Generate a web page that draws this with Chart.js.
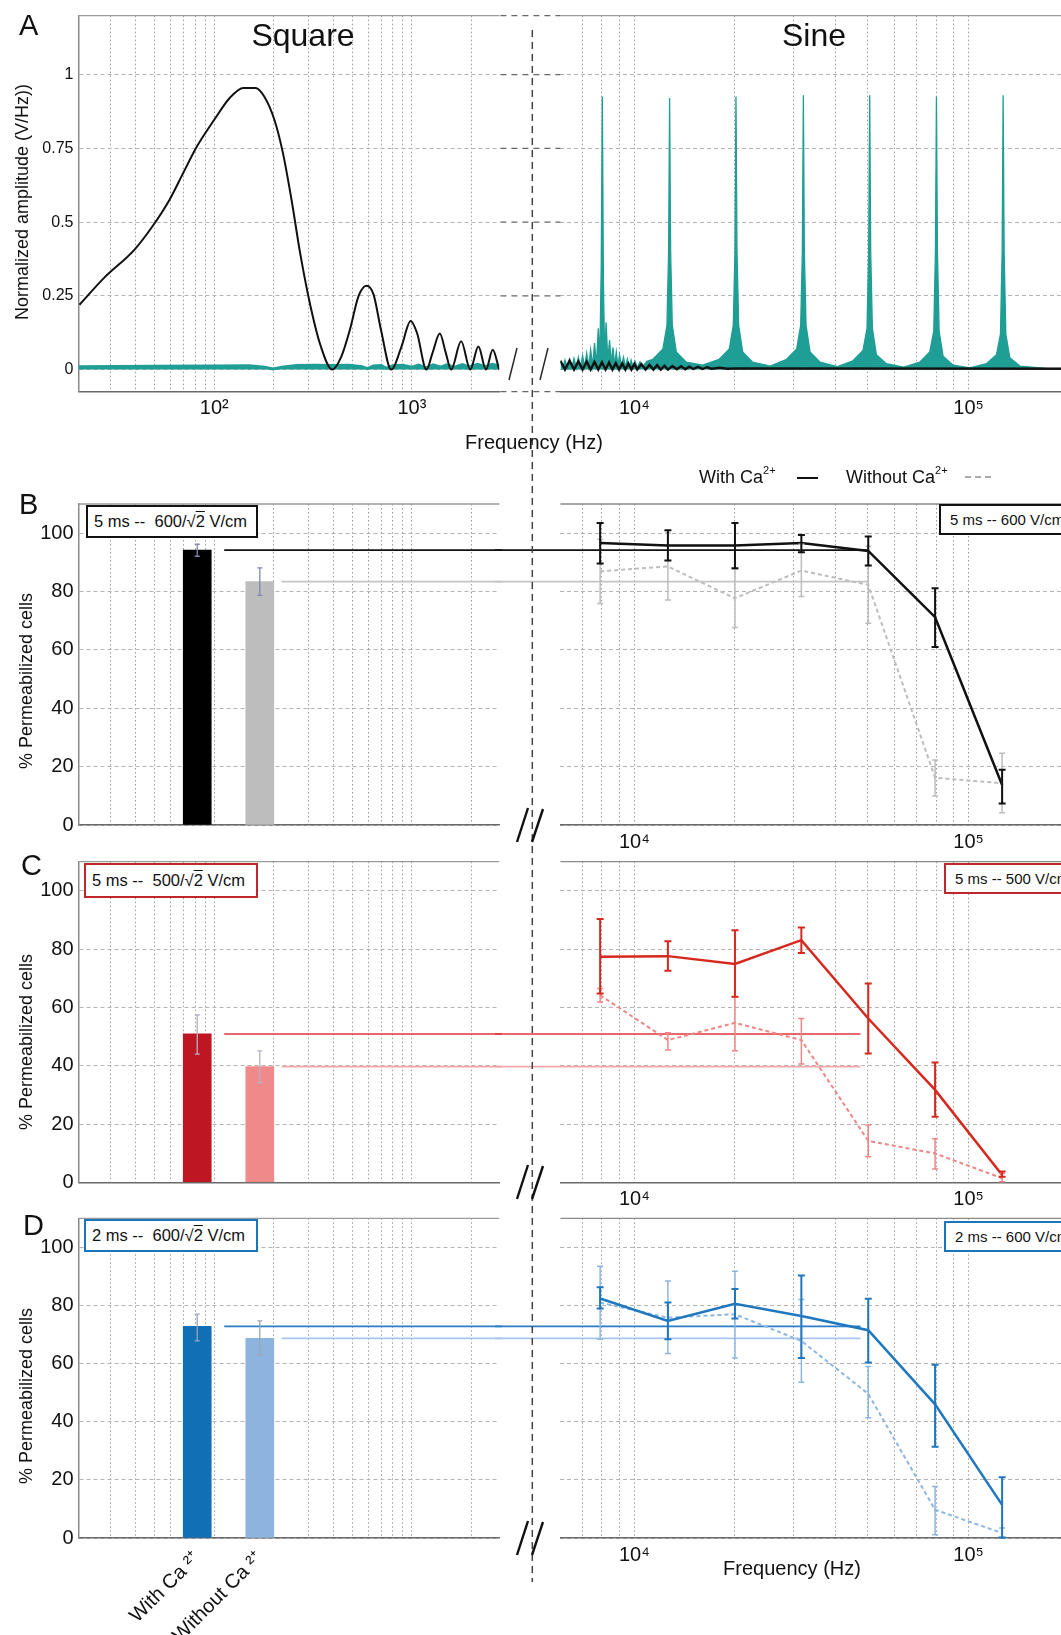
<!DOCTYPE html>
<html>
<head>
<meta charset="utf-8">
<title>Square vs sine pulses - spectra and permeabilization</title>
<script src="https://cdn.jsdelivr.net/npm/chart.js@4/dist/chart.umd.min.js"></script>
<style>
  html, body { margin: 0; padding: 0; background: #fff; }
  body { position: relative; width: 1061px; height: 1635px; overflow: hidden;
         font-family: "Liberation Sans", Arial, "DejaVu Sans", sans-serif; color: #111; }
  #charts canvas { position: absolute; }
  .t { position: absolute; white-space: nowrap; line-height: 1; }
  .letter { font-size: 29px; }
  .head { font-size: 32px; transform: translateX(-50%); }
  .ytitle { font-size: 18px; transform: translate(-50%, -50%) rotate(-90deg); }
  .xtitle { font-size: 20px; transform: translate(-50%, -50%); }
  .box { position: absolute; box-sizing: border-box; border: 2.5px solid #111; background: #fff;
         display: flex; align-items: center; white-space: nowrap; line-height: 1; }
  .box.l { font-size: 16.5px; padding-left: 6px; }
  .box.r { font-size: 15px; padding-left: 9px; width: 150px; }
  .ov { text-decoration: overline; }
  sup { font-size: 11px; vertical-align: 9px; line-height: 0; }
</style>
</head>
<body>
<div id="charts"></div>

<svg width="1061" height="1635" style="position:absolute;left:0;top:0">
  <line x1="532.3" y1="30" x2="532.3" y2="1582" stroke="#444" stroke-width="1.5" stroke-dasharray="7,5"/>
  <g stroke="#222" stroke-width="1.4">
    <line x1="509" y1="380" x2="517" y2="348"/>
    <line x1="540" y1="380" x2="548" y2="348"/>
  </g>
  <g stroke="#111" stroke-width="2.4">
    <line x1="517" y1="842" x2="528" y2="808"/>
    <line x1="532" y1="842" x2="543" y2="809"/>
    <line x1="517" y1="1199" x2="528" y2="1165"/>
    <line x1="532" y1="1199" x2="543" y2="1166"/>
    <line x1="517" y1="1555" x2="528" y2="1521"/>
    <line x1="532" y1="1555" x2="543" y2="1522"/>
  </g>
</svg>

<div class="t letter" style="left:19px;top:11px">A</div>
<div class="t letter" style="left:19px;top:490px">B</div>
<div class="t letter" style="left:21px;top:851px">C</div>
<div class="t letter" style="left:23px;top:1211px">D</div>

<div class="t head" style="left:303px;top:19px">Square</div>
<div class="t head" style="left:814px;top:19px">Sine</div>

<div class="t ytitle" style="left:22px;top:202px">Normalized amplitude (V/Hz))</div>
<div class="t ytitle" style="left:26px;top:681px">% Permeabilized cells</div>
<div class="t ytitle" style="left:26px;top:1042px">% Permeabilized cells</div>
<div class="t ytitle" style="left:26px;top:1396px">% Permeabilized cells</div>

<div class="t xtitle" style="left:534px;top:442px">Frequency (Hz)</div>
<div class="t xtitle" style="left:792px;top:1568px">Frequency (Hz)</div>

<div class="t" style="left:699px;top:468px;font-size:18px">With Ca<sup>2+</sup></div>
<div style="position:absolute;left:797px;top:477px;width:21px;height:2px;background:#111"></div>
<div class="t" style="left:846px;top:468px;font-size:18px">Without Ca<sup>2+</sup></div>
<div style="position:absolute;left:965px;top:476px;width:26px;border-top:2px dashed #aaa"></div>

<div class="box l" style="left:86px;top:505px;width:172px;height:33px;border-color:#111">5 ms --&nbsp; 600/√<span class="ov">2</span>&nbsp;V/cm</div>
<div class="box l" style="left:84px;top:863px;width:174px;height:35px;border-color:#c0272d">5 ms --&nbsp; 500/√<span class="ov">2</span>&nbsp;V/cm</div>
<div class="box l" style="left:84px;top:1219px;width:174px;height:33px;border-color:#1a75bc">2 ms --&nbsp; 600/√<span class="ov">2</span>&nbsp;V/cm</div>
<div class="box r" style="left:939px;top:504px;height:31px;border-color:#111">5 ms -- 600 V/cm</div>
<div class="box r" style="left:944px;top:863px;height:31px;border-color:#c0272d">5 ms -- 500 V/cm</div>
<div class="box r" style="left:944px;top:1221px;height:31px;border-color:#1a75bc">2 ms -- 600 V/cm</div>

<script>
// ---- panel A: normalized spectra ----
// square pulse spectrum (black)
const squareHz  = [20.8, 27.7, 39.5, 48.7, 59.4, 69.7, 81.8, 100, 119.7, 140.5, 161.7, 178.7, 201.5, 222.6, 246, 272, 306.9, 346, 395,
                   440, 486, 537, 590, 640, 697, 786, 887, 985, 1062, 1185, 1271, 1385, 1480, 1580, 1775, 1975, 2170, 2370, 2565, 2765];
const squareAmp = [0.22, 0.311, 0.407, 0.486, 0.576, 0.667, 0.757, 0.847, 0.921, 0.955, 0.955, 0.927, 0.847, 0.734, 0.576, 0.395, 0.215, 0.079, 0,
                   0.045, 0.136, 0.249, 0.284, 0.254, 0.136, 0, 0.079, 0.165, 0.124, 0, 0.056, 0.122, 0.06, 0, 0.096, 0, 0.078, 0, 0.067, 0];
// sine burst spectrum seen in the square band (teal)
const squareTealHz  = [20.6, 50, 100, 150, 180, 198, 220, 260, 320, 400, 480, 560, 594, 640, 700, 741, 800, 900, 1000, 1080,
                       1180, 1280, 1400, 1500, 1650, 1800, 1950, 2150, 2350, 2550, 2769];
const squareTealAmp = [0.010, 0.011, 0.012, 0.013, 0.008, 0.002, 0.008, 0.014, 0.015, 0.014, 0.015, 0.010, 0.003, 0.012, 0.014, 0.004, 0.013, 0.015, 0.008, 0.015,
                       0.006, 0.016, 0.008, 0.016, 0.008, 0.017, 0.009, 0.018, 0.010, 0.018, 0.012];
// sine burst spectrum (teal)
const sineHz  = [6010, 6100, 6200, 6300, 6400, 6500, 6600, 6700, 6800, 6900, 7000, 7100, 7200, 7300, 7400, 7500, 7600, 7700, 7800, 7880,
                 7960, 8020, 8080, 8150, 8230, 8330, 8430, 8530, 8630, 8730, 8830, 8930, 9030, 9150, 9280, 9400, 9530, 9650, 9780, 9900,
                 10050, 10200, 10400, 10600, 10900,
                 11360, 12176, 12517, 12662, 12750, 12838, 12987, 13350, 14306, 16000,
                 17945, 19234, 19771, 20001, 20140, 20279, 20515, 21089, 22597, 25500,
                 28548, 30598, 31454, 31819, 32040, 32261, 32636, 33549, 35949, 40500,
                 45085, 48323, 49674, 50251, 50600, 50949, 51541, 52983, 56773, 64000,
                 71405, 76534, 78673, 79587, 80140, 80693, 81631, 83915, 89917, 101000,
                 113059, 121180, 124568, 126014, 126890, 127766, 129250, 132867, 142371, 170000, 247000];
const sineAmp = [0.03, 0.005, 0.032, 0.005, 0.035, 0.006, 0.038, 0.006, 0.042, 0.007, 0.048, 0.008, 0.056, 0.01, 0.068, 0.012, 0.09, 0.015, 0.14, 0.03,
                 0.35, 0.926, 0.3, 0.04, 0.16, 0.03, 0.1, 0.02, 0.075, 0.015, 0.06, 0.012, 0.05, 0.01, 0.042, 0.01, 0.036, 0.008, 0.032, 0.008,
                 0.028, 0.008, 0.026, 0.01, 0.028,
                 0.035, 0.07, 0.15, 0.4, 0.921, 0.4, 0.15, 0.06, 0.025, 0.015,
                 0.035, 0.07, 0.15, 0.4, 0.926, 0.4, 0.15, 0.06, 0.025, 0.012,
                 0.035, 0.07, 0.15, 0.4, 0.93, 0.4, 0.15, 0.06, 0.025, 0.01,
                 0.03, 0.065, 0.14, 0.4, 0.93, 0.4, 0.14, 0.05, 0.02, 0.008,
                 0.025, 0.06, 0.13, 0.4, 0.926, 0.4, 0.13, 0.045, 0.015, 0.006,
                 0.02, 0.05, 0.12, 0.4, 0.93, 0.4, 0.12, 0.04, 0.012, 0.004, 0.003];
// square pulse spectrum seen in the sine band (black ripple)
const sineSquareHz  = [6010, 6200, 6400, 6600, 6800, 7000, 7200, 7400, 7600, 7800, 8000, 8200, 8400, 8600, 8800, 9000, 9200, 9400, 9600, 9800,
                       10000, 10200, 10500, 10800, 11100, 11400, 11700, 12000, 12300, 12600, 13000, 13400, 13800, 14200, 14600, 15000, 15500,
                       16000, 16500, 17000, 18000, 19000, 20000, 247000];
const sineSquareAmp = [0.03, 0, 0.03, 0, 0.028, 0, 0.027, 0, 0.026, 0, 0.025, 0, 0.024, 0, 0.022, 0, 0.021, 0, 0.02, 0,
                       0.019, 0, 0.018, 0, 0.016, 0, 0.015, 0, 0.013, 0, 0.012, 0.001, 0.011, 0.001, 0.01, 0.002, 0.009,
                       0.002, 0.008, 0.003, 0.006, 0.003, 0.004, 0.003];
const ampTicks = [0, 0.25, 0.5, 0.75, 1];

// ---- panels B-D: % permeabilized cells ----
const pulseHz = [7900, 12600, 20000, 31600, 50100, 79400, 126000];
const barHz = [82, 170];
const barLabels = ['With Ca ²⁺', 'Without Ca ²⁺'];
const pctTicks = [0, 20, 40, 60, 80, 100];

// B: 5 ms, 600 V/cm
const bBar = [94.2, 83.4], bBarLo = [92.1, 78.7], bBarHi = [96.2, 88.1];
const bWith = [96.6, 95.8, 95.8, 96.6, 93.9, 71.2, 13.7];
const bWithLo = [89.6, 90.6, 88.0, 93.5, 88.9, 61.0, 7.4];
const bWithHi = [103.5, 101.0, 103.5, 99.4, 98.9, 81.1, 18.9];
const bWithout = [86.9, 88.6, 77.7, 87.2, 82.3, 16.2, 14.3];
const bWithoutLo = [75.9, 77.1, 67.7, 78.3, 69.1, 9.9, 4.2];
const bWithoutHi = [97.9, 100.1, 87.7, 96.2, 95.5, 22.3, 24.6];

// C: 5 ms, 500 V/cm
const cBar = [50.9, 39.7], cBarLo = [44.0, 34.2], cBarHi = [57.4, 45.1];
const cWith = [77.4, 77.6, 74.9, 83.1, 56.2, 31.7, 2.5];
const cWithLo = [64.8, 72.6, 63.7, 78.7, 44.2, 22.5, 1.9];
const cWithHi = [90.3, 82.7, 86.5, 87.4, 68.2, 41.1, 3.7];
const cWithout = [64.2, 48.8, 54.7, 48.8, 14.2, 9.9, 1.4];
const cWithoutLo = [61.9, 45.4, 45.1, 40.6, 8.8, 4.6, 0.2];
const cWithoutHi = [66.5, 51.3, 63.7, 56.2, 19.7, 14.9, 3.1];

// D: 2 ms, 600 V/cm
const dBar = [72.8, 68.7], dBarLo = [67.8, 63.0], dBarHi = [77.0, 74.7];
const dWith = [82.4, 74.7, 80.6, 76.4, 71.5, 46.0, 11.4];
const dWithLo = [79.0, 68.4, 75.5, 61.9, 60.4, 31.4, 0.2];
const dWithHi = [86.3, 81.0, 85.7, 90.3, 82.3, 59.6, 20.9];
const dWithout = [81.0, 75.8, 77.0, 67.8, 49.6, 9.7, 1.7];
const dWithoutLo = [68.4, 63.5, 61.9, 53.6, 41.4, 1.1, 0.2];
const dWithoutHi = [93.5, 88.4, 91.8, 82.1, 59.0, 17.7, 3.4];

// log grid lines and labelled decades
const leftGridHz = [30, 40, 50, 60, 70, 80, 90, 100, 200, 300, 400, 500, 600, 700, 800, 900, 1000, 2000];
const rightGridHz = [7000, 8000, 9000, 10000, 20000, 30000, 40000, 50000, 60000, 70000, 80000, 90000, 100000, 200000];
const leftTickText = { 100: '10²', 1000: '10³' };
const rightTickText = { 10000: '10⁴', 100000: '10⁵' };

const FONT = '"Liberation Sans", Arial, sans-serif';
const TEAL = '#1f9e95';
Chart.defaults.font.family = FONT;

const pts = (xs, ys) => xs.map((x, i) => ({ x: x, y: ys[i] }));

// ---------- plugins ----------
const frame = {
  id: 'frame',
  beforeDatasetsDraw(chart, args, opts) {
    const ctx = chart.ctx, a = chart.chartArea;
    ctx.save();
    ctx.strokeStyle = opts.color || '#999';
    ctx.lineWidth = 1.3;
    ctx.beginPath();
    ctx.moveTo(a.left, a.top);
    ctx.lineTo(a.right, a.top);
    ctx.stroke();
    if (opts.gapLevels) {
      // dashed pieces bridging the axis break
      ctx.setLineDash([6, 5]);
      ctx.strokeStyle = '#666';
      opts.gapLevels.forEach(v => {
        const y = chart.scales.y.getPixelForValue(v);
        ctx.beginPath();
        ctx.moveTo(a.left - opts.gapWidth, y);
        ctx.lineTo(a.left, y);
        ctx.stroke();
      });
    }
    ctx.restore();
  }
};

const refLines = {
  id: 'refLines',
  beforeDatasetsDraw(chart, args, opts) {
    if (!opts.items) return;
    const ctx = chart.ctx;
    ctx.save();
    opts.items.forEach(it => {
      const y = chart.scales.y.getPixelForValue(it.value);
      // lines run on across the axis break, to the canvas edge
      let x0 = 0, x1 = chart.width;
      if (it.afterBar !== undefined) {
        const bar = chart.getDatasetMeta(0).data[it.afterBar];
        x0 = bar.x + bar.width / 2 + it.gap;
      }
      if (it.toHz) x1 = chart.scales.x.getPixelForValue(it.toHz);
      ctx.strokeStyle = it.color;
      ctx.lineWidth = it.width;
      ctx.beginPath();
      ctx.moveTo(x0, y);
      ctx.lineTo(x1, y);
      ctx.stroke();
    });
    ctx.restore();
  }
};

const errorBars = {
  id: 'errorBars',
  afterDatasetsDraw(chart) {
    const ctx = chart.ctx, yS = chart.scales.y;
    const sets = chart.data.datasets;
    for (let di = sets.length - 1; di >= 0; di--) {
      const ds = sets[di];
      if (!ds.errLo) continue;
      const meta = chart.getDatasetMeta(di);
      ctx.save();
      ctx.strokeStyle = ds.errColor || ds.borderColor;
      ctx.lineWidth = ds.errWidth || 1.5;
      meta.data.forEach((el, i) => {
        const x = el.x, c = ds.capW || 3;
        const y0 = yS.getPixelForValue(ds.errLo[i]);
        const y1 = yS.getPixelForValue(ds.errHi[i]);
        ctx.beginPath();
        ctx.moveTo(x, y0); ctx.lineTo(x, y1);
        ctx.moveTo(x - c, y0); ctx.lineTo(x + c, y0);
        ctx.moveTo(x - c, y1); ctx.lineTo(x + c, y1);
        ctx.stroke();
      });
      ctx.restore();
    }
  }
};

// ---------- helpers ----------
function addCanvas(rect) {
  const c = document.createElement('canvas');
  c.width = rect[2];
  c.height = rect[3];
  c.style.left = rect[0] + 'px';
  c.style.top = rect[1] + 'px';
  c.style.width = rect[2] + 'px';
  c.style.height = rect[3] + 'px';
  document.getElementById('charts').appendChild(c);
  return c;
}

function logAxis(min, max, gridHz, tickText, height, showTicks) {
  return {
    type: 'logarithmic', position: 'bottom', min: min, max: max, offset: false, weight: 0,
    afterBuildTicks: s => { s.ticks = gridHz.map(v => ({ value: v })); },
    afterFit: s => { s.height = height; },
    grid: { color: '#9c9c9c', lineWidth: 1, drawTicks: false, offset: false },
    border: { display: true, color: '#6a6a6a', width: 1.5, dash: [1.5, 2.5] },
    ticks: {
      display: showTicks, autoSkip: false, maxRotation: 0, padding: 5, color: '#111',
      font: { family: FONT, size: 20 },
      callback: v => tickText[v] || ''
    }
  };
}

function linAxis(min, max, ticks, width, showLabels, fontSize) {
  return {
    type: 'linear', min: min, max: max,
    afterBuildTicks: s => { s.ticks = ticks.map(v => ({ value: v })); },
    afterFit: s => { s.width = width; },
    grid: { color: '#b4b4b4', lineWidth: 1, drawTicks: false },
    border: { display: showLabels, color: '#8a8a8a', width: 1.5, dash: [4, 3] },
    ticks: { display: showLabels, padding: 5, color: '#111', font: { family: FONT, size: fontSize }, callback: v => String(v) }
  };
}

function baseOptions(rect, area, yW, xH, scales, pluginOpts) {
  return {
    responsive: false, animation: false, devicePixelRatio: 1, events: [],
    layout: { padding: {
      left: area[0] - rect[0] - yW,
      top: area[1] - rect[1],
      right: rect[0] + rect[2] - area[2],
      bottom: rect[1] + rect[3] - area[3] - xH
    } },
    scales: scales,
    plugins: Object.assign({ legend: { display: false }, tooltip: { enabled: false } }, pluginOpts)
  };
}

const leftMin = 20.56, leftMax = 2769;
const rightMin = 6008, rightMax = 247300;

// ---------- A ----------
const aLeftRect = [0, 0, 502, 440], aLeftArea = [78.5, 15.7, 499.3, 391.7];
new Chart(addCanvas(aLeftRect), {
  type: 'line',
  data: { datasets: [
    { data: pts(squareHz, squareAmp), borderColor: '#111', borderWidth: 2, pointRadius: 0, cubicInterpolationMode: 'monotone', order: 0 },
    { data: pts(squareTealHz, squareTealAmp), borderColor: TEAL, backgroundColor: TEAL, borderWidth: 3, pointRadius: 0, fill: 'origin', order: 1 }
  ] },
  options: baseOptions(aLeftRect, aLeftArea, 78.5, 48.3, {
    x: logAxis(leftMin, leftMax, leftGridHz, leftTickText, 48.3, true),
    y: linAxis(-0.075, 1.2, ampTicks, 78.5, true, 16)
  }, { frame: { color: '#9a9a9a' } }),
  plugins: [frame]
});

const aRightRect = [495, 0, 620, 440], aRightArea = [560.4, 15.7, 1100, 391.7];
new Chart(addCanvas(aRightRect), {
  type: 'line',
  data: { datasets: [
    { data: pts(sineSquareHz, sineSquareAmp), borderColor: '#111', borderWidth: 2.4, pointRadius: 0, order: 0 },
    { data: pts(sineHz, sineAmp), borderColor: TEAL, backgroundColor: TEAL, borderWidth: 1.3, pointRadius: 0, fill: 'origin', order: 1 }
  ] },
  options: baseOptions(aRightRect, aRightArea, 0, 48.3, {
    x: logAxis(rightMin, rightMax, rightGridHz, rightTickText, 48.3, true),
    y: linAxis(-0.075, 1.2, ampTicks, 0, false, 16)
  }, { frame: { color: '#9a9a9a', gapWidth: 60, gapLevels: [1.2, 1, 0.75, 0.5, 0.25, -0.075] } }),
  plugins: [frame]
});

// ---------- B-D ----------
function barPanel(rect, area, xH, vals, lo, hi, colors, errColor, lineColors, withLabels) {
  const scales = {
    x: logAxis(leftMin, leftMax, leftGridHz, {}, withLabels ? 0 : xH, false),
    y: linAxis(0, 110, pctTicks, 78.5, true, 20)
  };
  if (withLabels) {
    scales.xl = {
      type: 'logarithmic', position: 'bottom', min: leftMin, max: leftMax, weight: 1, offset: false,
      afterBuildTicks: s => { s.ticks = barHz.map(v => ({ value: v })); },
      afterFit: s => { s.height = xH; },
      grid: { display: false, drawTicks: false },
      border: { display: false },
      ticks: { autoSkip: false, minRotation: 45, maxRotation: 45, padding: 9, color: '#111',
               font: { family: FONT, size: 20 }, callback: (v, i) => barLabels[i] }
    };
  }
  new Chart(addCanvas(rect), {
    type: 'bar',
    data: { datasets: [{
      data: pts(barHz, vals), backgroundColor: colors, borderWidth: 0, barThickness: 28,
      errLo: lo, errHi: hi, errColor: errColor, errWidth: 1.3, capW: 2.5
    }] },
    options: baseOptions(rect, area, 78.5, xH, scales, {
      frame: { color: '#9a9a9a' },
      refLines: { items: [
        { value: vals[0], color: lineColors[0], width: 1.6, afterBar: 0, gap: 13 },
        { value: vals[1], color: lineColors[1], width: 1.6, afterBar: 1, gap: 8 }
      ] }
    }),
    plugins: [frame, refLines, errorBars]
  });
}

function linePanel(rect, area, xH, sets, barVals, lineColors, refEndHz) {
  new Chart(addCanvas(rect), {
    type: 'line',
    data: { datasets: [
      { data: pts(pulseHz, sets[0]), borderColor: sets[3], borderWidth: 2.5, pointRadius: 0,
        errLo: sets[1], errHi: sets[2], errWidth: 2, capW: 3.5, order: 0 },
      { data: pts(pulseHz, sets[4]), borderColor: sets[7], borderWidth: 2, borderDash: [4, 3], pointRadius: 0,
        errLo: sets[5], errHi: sets[6], errWidth: 1.5, capW: 3, order: 1 }
    ] },
    options: baseOptions(rect, area, 0, xH, {
      x: logAxis(rightMin, rightMax, rightGridHz, rightTickText, xH, true),
      y: linAxis(0, 110, pctTicks, 0, false, 20)
    }, {
      frame: { color: '#8a8a8a' },
      refLines: { items: [
        { value: barVals[0], color: lineColors[0], width: 1.6, toHz: refEndHz },
        { value: barVals[1], color: lineColors[1], width: 1.6, toHz: refEndHz }
      ] }
    }),
    plugins: [frame, refLines, errorBars]
  });
}

barPanel([0, 470, 502, 380], [78.5, 504, 499.3, 825], 25, bBar, bBarLo, bBarHi,
         ['#000000', '#bdbdbd'], '#8286ad', ['#111111', '#c4c4c4'], false);
linePanel([495, 470, 620, 400], [560.4, 504, 1100, 825], 45,
          [bWith, bWithLo, bWithHi, '#111111', bWithout, bWithoutLo, bWithoutHi, '#bdbdbd'],
          bBar, ['#111111', '#c4c4c4'], 49900);

barPanel([0, 830, 502, 385], [78.5, 861.7, 499.3, 1182.3], 25, cBar, cBarLo, cBarHi,
         ['#be1623', '#f08a8a'], '#b4b2c4', ['#e0343a', '#f4a7a7'], false);
linePanel([495, 830, 620, 400], [560.4, 861.7, 1100, 1182.3], 45,
          [cWith, cWithLo, cWithHi, '#d7281e', cWithout, cWithoutLo, cWithoutHi, '#f08585'],
          cBar, ['#e0343a', '#f4a7a7'], 47500);

barPanel([0, 1190, 502, 445], [78.5, 1218.3, 499.3, 1538], 97, dBar, dBarLo, dBarHi,
         ['#116fb6', '#8db3df'], '#9aa5b4', ['#2b7dc6', '#a8c8eb'], true);
linePanel([495, 1190, 620, 415], [560.4, 1218.3, 1100, 1538], 45,
          [dWith, dWithLo, dWithHi, '#1f77bf', dWithout, dWithoutLo, dWithoutHi, '#8db6e2'],
          dBar, ['#2b7dc6', '#a8c8eb'], 47500);
</script>
</body>
</html>
